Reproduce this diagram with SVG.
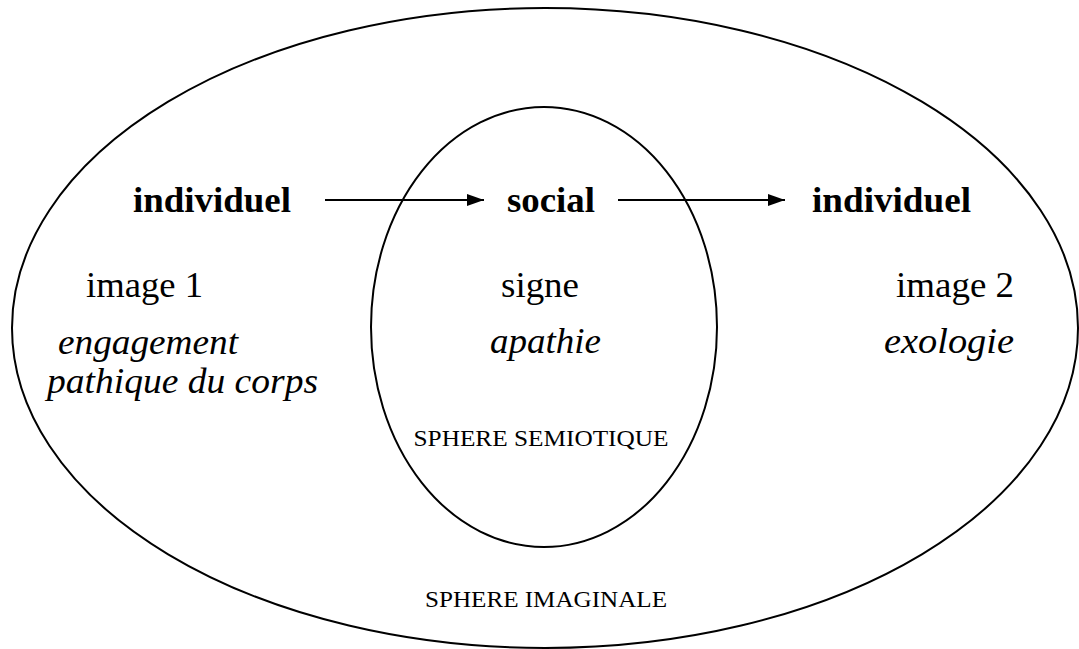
<svg xmlns="http://www.w3.org/2000/svg" width="1079" height="649" viewBox="0 0 1079 649">
<style>
.sh{fill:none;stroke:#000;stroke-width:2}
.t{font-family:"Liberation Serif","Times New Roman",serif;fill:#000}
.b{font-weight:bold;font-size:36px}
.r{font-size:36px}
.i{font-style:italic;font-size:36px}
.s{font-size:24px}
.c{stroke:#000;stroke-width:2;fill:none;marker-end:url(#ah)}
</style>
<defs>
<marker id="ah" markerUnits="userSpaceOnUse" markerWidth="18" markerHeight="12" refX="17" refY="6" orient="auto">
<path d="M0,0 L17,6 L0,12 Z" fill="#000"/>
</marker>
</defs>
<g id="sphere-imaginale">
<ellipse class="sh" cx="545" cy="328" rx="533" ry="320"/>
<text class="t s" x="546" y="607" text-anchor="middle" textLength="242" lengthAdjust="spacingAndGlyphs">SPHERE IMAGINALE</text>
</g>
<g id="sphere-semiotique">
<ellipse class="sh" cx="544" cy="327" rx="173" ry="220"/>
<text class="t s" x="541" y="446" text-anchor="middle" textLength="255" lengthAdjust="spacingAndGlyphs">SPHERE SEMIOTIQUE</text>
</g>
<g id="individuel-1">
<text class="t b" x="133" y="212" textLength="158" lengthAdjust="spacingAndGlyphs">individuel</text>
<text class="t r" x="86" y="297" textLength="117" lengthAdjust="spacingAndGlyphs">image 1</text>
<text class="t i" x="58" y="354" textLength="180" lengthAdjust="spacingAndGlyphs">engagement</text>
<text class="t i" x="47" y="393" textLength="271" lengthAdjust="spacingAndGlyphs">pathique du corps</text>
</g>
<g id="social">
<text class="t b" x="507" y="212" textLength="88" lengthAdjust="spacingAndGlyphs">social</text>
<text class="t r" x="501" y="297" textLength="78" lengthAdjust="spacingAndGlyphs">signe</text>
<text class="t i" x="490" y="353" textLength="111" lengthAdjust="spacingAndGlyphs">apathie</text>
</g>
<g id="individuel-2">
<text class="t b" x="812" y="212" textLength="159" lengthAdjust="spacingAndGlyphs">individuel</text>
<text class="t r" x="896" y="297" textLength="118" lengthAdjust="spacingAndGlyphs">image 2</text>
<text class="t i" x="884" y="353" textLength="130" lengthAdjust="spacingAndGlyphs">exologie</text>
</g>
<g id="connectors">
<line class="c" x1="325" y1="200" x2="484" y2="200"/>
<line class="c" x1="618" y1="200" x2="785" y2="200"/>
</g>
</svg>
